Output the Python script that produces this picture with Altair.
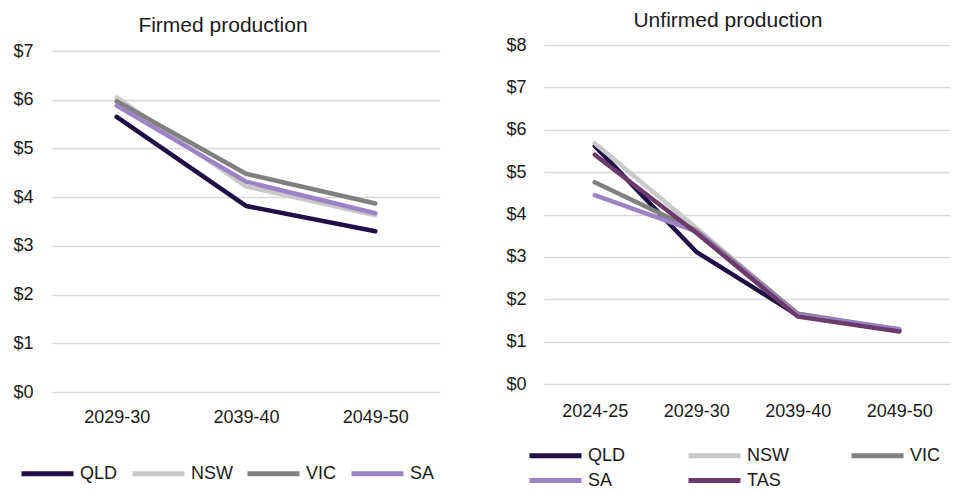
import altair as alt
import pandas as pd

FONT = "Liberation Sans"

# Firmed production
firmed_years = ["2029-30", "2039-40", "2049-50"]
firmed_qld = [5.65, 3.82, 3.30]
firmed_nsw = [6.05, 4.22, 3.63]
firmed_vic = [5.97, 4.48, 3.87]
firmed_sa = [5.88, 4.32, 3.67]

# Unfirmed production
unfirmed_years = ["2024-25", "2029-30", "2039-40", "2049-50"]
unfirmed_qld = [5.62, 3.12, 1.62, 1.25]
unfirmed_nsw = [5.68, 3.68, 1.66, 1.29]
unfirmed_vic = [4.76, 3.62, 1.66, 1.28]
unfirmed_sa = [4.46, 3.60, 1.63, 1.29]
unfirmed_tas = [5.41, 3.57, 1.59, 1.24]

states_f = ["QLD", "NSW", "VIC", "SA"]
states_u = ["QLD", "NSW", "VIC", "SA", "TAS"]
colors_f = ["#1f0f45", "#c9c9c9", "#808080", "#9b83c6"]
colors_u = ["#1f0f45", "#c9c9c9", "#808080", "#9b83c6", "#6c3b6c"]

rows_f = []
for s, vals in zip(states_f, [firmed_qld, firmed_nsw, firmed_vic, firmed_sa]):
    for y, v in zip(firmed_years, vals):
        rows_f.append({"state": s, "year": y, "value": v, "order": states_f.index(s)})
df_f = pd.DataFrame(rows_f)

rows_u = []
for s, vals in zip(states_u, [unfirmed_qld, unfirmed_nsw, unfirmed_vic, unfirmed_sa, unfirmed_tas]):
    for y, v in zip(unfirmed_years, vals):
        rows_u.append({"state": s, "year": y, "value": v, "order": states_u.index(s)})
df_u = pd.DataFrame(rows_u)

LEGEND_LINE = "M-2.6,0L2.6,0"


def panel(df, years, states, colors, ymax, ydom, w, h, title, toff, tdx, xpad, ypad,
          lx, ly, cols, colpad, rowpad):
    return alt.Chart(df).mark_line(strokeWidth=4.5, strokeCap="round", strokeJoin="round").encode(
        x=alt.X("year:N", sort=years, scale=alt.Scale(paddingInner=0, paddingOuter=0.5),
                axis=alt.Axis(title=None, labelAngle=0, domain=False, ticks=False, grid=False,
                              labelPadding=xpad, labelFont=FONT, labelFontSize=18,
                              labelColor="#1a1a1a")),
        y=alt.Y("value:Q", scale=alt.Scale(domain=[0, ydom], nice=False, zero=True),
                axis=alt.Axis(title=None, values=list(range(ymax + 1)), format="$d",
                              labelOverlap=False, domain=False, ticks=False, labelPadding=ypad,
                              minExtent=44, maxExtent=44,
                              labelFont=FONT, labelFontSize=18, labelColor="#1a1a1a",
                              gridColor="#d9d9d9", gridWidth=1.5)),
        color=alt.Color("state:N", sort=states,
                        scale=alt.Scale(domain=states, range=colors),
                        legend=alt.Legend(title=None, orient="none", legendX=lx, legendY=ly,
                                          direction="horizontal", columns=cols, columnPadding=colpad,
                                          rowPadding=rowpad, symbolType=LEGEND_LINE, symbolSize=400,
                                          symbolStrokeWidth=5, labelOffset=20, padding=0,
                                          labelFont=FONT, labelFontSize=18, labelColor="#1a1a1a",
                                          gridAlign="each")),
        detail="state:N",
        order="order:Q",
    ).properties(
        width=w, height=h,
        title=alt.TitleParams(title, font=FONT, fontSize=21, fontWeight="normal", color="#1a1a1a",
                              offset=toff, dx=tdx, anchor="middle")
    )


left = panel(df_f, firmed_years, states_f, colors_f, 7, 7.125, 388, 347, "Firmed production",
             6, -23, 16, 19, -17, 416, 4, 4, 4)
right = panel(df_u, unfirmed_years, states_u, colors_u, 8, 8, 406, 339, "Unfirmed production",
              5, -19, 18, 18, -1, 398, 3, 52, 2)

chart = alt.hconcat(left, right, spacing=104, bounds="flush").resolve_scale(
    color="independent"
).resolve_legend(color="independent").configure(
    padding={"left": 0, "top": 2, "right": 0, "bottom": 0}
).configure_view(stroke=None)

chart.save("out.html", embed_options={"renderer": "svg", "actions": False})
